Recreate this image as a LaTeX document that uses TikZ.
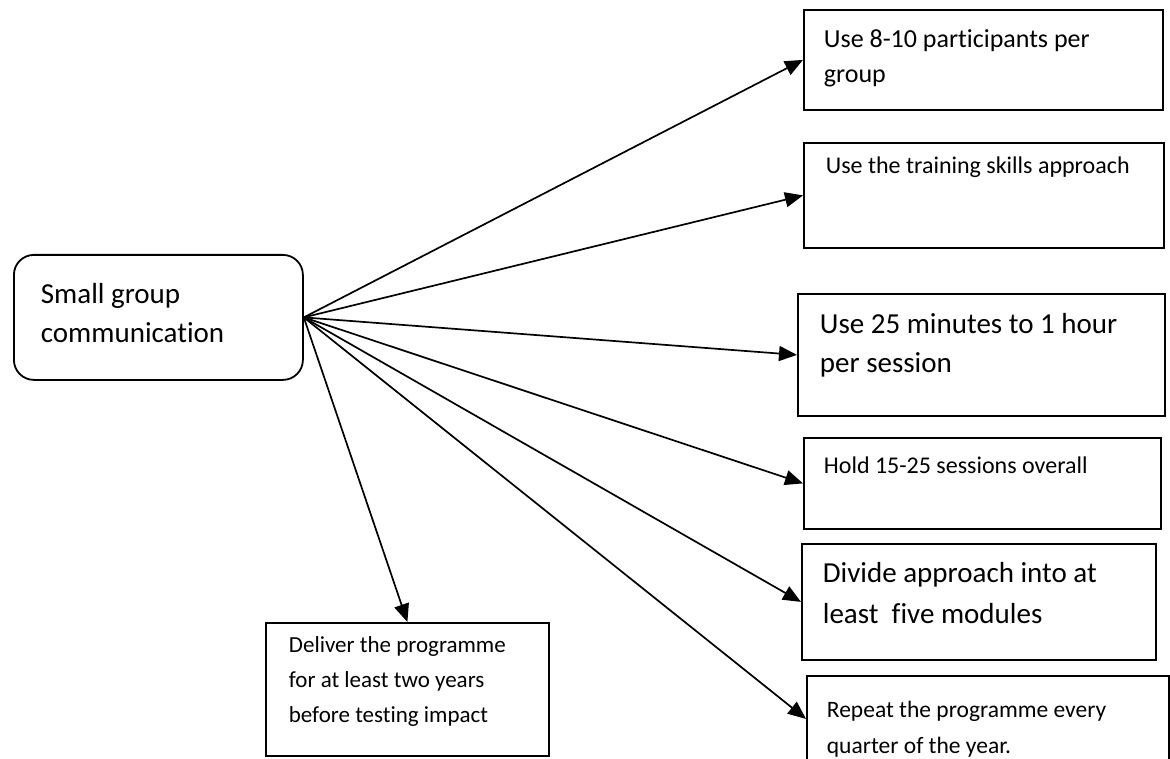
\documentclass[tikz,border=0pt]{standalone}
\usepackage{fontspec}
\setmainfont{Carlito}[Ligatures=NoCommon]
\usetikzlibrary{arrows.meta}
\newcommand{\bt}[7]{\parbox[c][#2pt][t]{#1pt}{\fontsize{#5pt}{#6pt}\selectfont\raggedright\leftskip=#3pt\relax\vspace*{\dimexpr#4pt-0.8em\relax}\noindent\rule{0pt}{0.8em}#7\par}}
\tikzset{
  box/.style={draw, line width=1.8pt, inner sep=0pt, anchor=north west},
  arr/.style={-{Triangle[length=18pt,width=15pt]}, line width=1.7pt}
}
\begin{document}
\begin{tikzpicture}[x=1pt,y=-1pt]
\clip (0,0) rectangle (1170,759);
\fill[white] (0,0) rectangle (1170,759);
\node[box, rounded corners=20pt] (main) at (13,254) {\bt{289}{125}{27}{49}{29}{39}{Small group\\communication}};
\node[box] (b1) at (803,9) {\bt{359}{100}{20}{38}{26}{35}{Use 8-10 participants per\\group}};
\node[box] (b2) at (803,142) {\bt{360}{105}{22}{31}{24}{36}{Use the training skills approach}};
\node[box] (b3) at (797,293) {\bt{367}{122}{22}{40}{29}{39}{Use 25 minutes to 1 hour\\per session}};
\node[box] (b4) at (803,437) {\bt{357}{91}{20}{36}{24}{36}{Hold 15-25 sessions overall}};
\node[box] (b5) at (801,543) {\bt{354}{116}{21}{39}{29}{41}{Divide approach into at\\least\ \ five modules}};
\node[box] (b6) at (806,675) {\bt{362}{86}{20}{42}{23.5}{36}{Repeat the programme every\\quarter of the year.}};
\node[box] (b7) at (265,622) {\bt{283}{133}{23}{30}{23}{35}{Deliver the programme\\for at least two years\\before testing impact}};
\draw[arr] (main.east) -- (b1.west);
\draw[arr] (main.east) -- (b2.west);
\draw[arr] (main.east) -- (b3.west);
\draw[arr] (main.east) -- (b4.west);
\draw[arr] (main.east) -- (b5.west);
\draw[arr] (main.east) -- (b6.west);
\draw[arr] (main.east) -- (b7.north);
\end{tikzpicture}
\end{document}
